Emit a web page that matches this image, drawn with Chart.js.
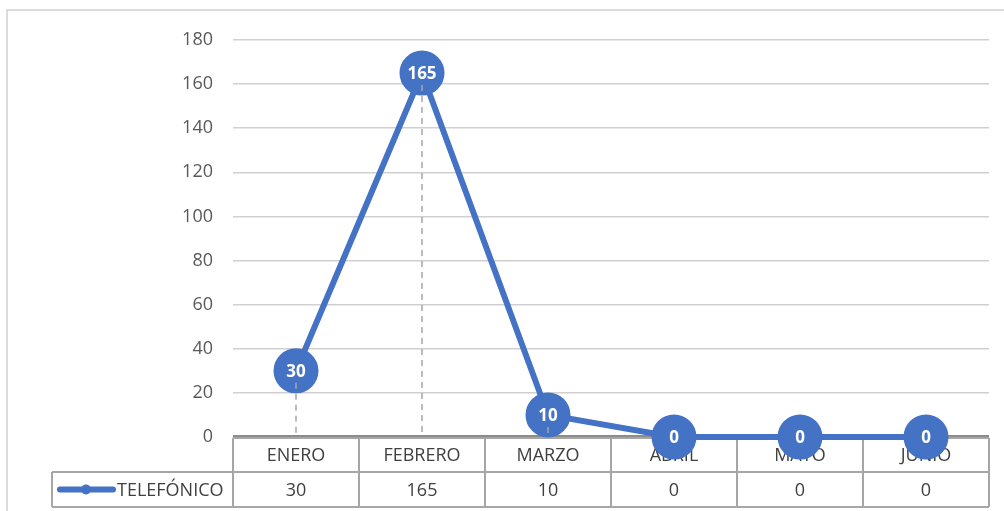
<!DOCTYPE html>
<html>
<head>
<meta charset="utf-8">
<script src="https://cdn.jsdelivr.net/npm/chart.js@4.4.0/dist/chart.umd.min.js"></script>
<style>
  html, body { margin: 0; padding: 0; background: #fff; }
  #wrap { width: 1004px; height: 511px; position: relative; }
</style>
</head>
<body>
<div id="wrap"><canvas id="chart" width="1004" height="511"></canvas></div>
<script>
// Data
const months = ['ENERO', 'FEBRERO', 'MARZO', 'ABRIL', 'MAYO', 'JUNIO'];
const telefonico = [30, 165, 10, 0, 0, 0];
const seriesName = 'TELEFÓNICO';
const yTicks = [0, 20, 40, 60, 80, 100, 120, 140, 160, 180];

const BLUE = '#4472C4';
const FONT = '"Open Sans", sans-serif';

// Outer frame of the chart object
const framePlugin = {
    id: 'frame',
    beforeDraw(chart) {
        const ctx = chart.ctx;
        ctx.save();
        ctx.fillStyle = '#fff';
        ctx.fillRect(0, 0, chart.width, chart.height);
        ctx.strokeStyle = '#d0d0d0';
        ctx.lineWidth = 1.5;
        ctx.beginPath();
        ctx.moveTo(7, chart.height + 2);
        ctx.lineTo(7, 10);
        ctx.lineTo(chart.width + 2, 10);
        ctx.stroke();
        ctx.restore();
    }
};

// Data table under the plot area (drawn before the series so markers overlap it)
const dataTablePlugin = {
    id: 'dataTable',
    beforeDatasetsDraw(chart) {
        const ctx = chart.ctx;
        const x = chart.scales.x;
        const top = chart.scales.y.getPixelForValue(0) + 1;
        const mid = top + 34;
        const bottom = mid + 35;
        const legendLeft = 52;
        const n = months.length;
        const half = (x.getPixelForValue(1) - x.getPixelForValue(0)) / 2;
        const left = x.getPixelForValue(0) - half;
        const right = x.getPixelForValue(n - 1) + half;

        ctx.save();
        ctx.strokeStyle = '#a6a6a6';
        ctx.lineWidth = 2;
        ctx.beginPath();
        ctx.moveTo(left, top); ctx.lineTo(right, top);
        ctx.moveTo(legendLeft, mid); ctx.lineTo(right, mid);
        ctx.moveTo(legendLeft, bottom); ctx.lineTo(right, bottom);
        ctx.moveTo(legendLeft, mid); ctx.lineTo(legendLeft, bottom);
        for (let i = 0; i <= n; i++) {
            const cx = left + i * half * 2;
            ctx.moveTo(cx, top); ctx.lineTo(cx, bottom);
        }
        ctx.stroke();

        // category axis line
        ctx.strokeStyle = '#8c8c8c';
        ctx.lineWidth = 2;
        ctx.beginPath();
        ctx.moveTo(left, top - 2); ctx.lineTo(right, top - 2);
        ctx.stroke();

        ctx.font = '18px ' + FONT;
        ctx.fillStyle = '#404040';
        ctx.textAlign = 'center';
        ctx.textBaseline = 'middle';
        months.forEach((m, i) => {
            const cx = x.getPixelForValue(i);
            ctx.fillText(m, cx, (top + mid) / 2 + 1);
            ctx.fillText(String(telefonico[i]), cx, (mid + bottom) / 2 + 1);
        });

        // legend key
        const ky = (mid + bottom) / 2;
        ctx.strokeStyle = BLUE;
        ctx.lineWidth = 6;
        ctx.lineCap = 'round';
        ctx.beginPath();
        ctx.moveTo(60, ky); ctx.lineTo(113, ky);
        ctx.stroke();
        ctx.fillStyle = BLUE;
        ctx.beginPath();
        ctx.arc(86, ky, 5, 0, Math.PI * 2);
        ctx.fill();
        ctx.fillStyle = '#404040';
        ctx.textAlign = 'left';
        ctx.fillText(seriesName, 117, ky + 1);
        ctx.restore();
    }
};

// Dashed drop lines from each point to the category axis
const dropLinePlugin = {
    id: 'dropLines',
    afterDatasetsDraw(chart) {
        const ctx = chart.ctx;
        const bottom = chart.scales.y.getPixelForValue(0);
        ctx.save();
        ctx.strokeStyle = '#a6a6a6';
        ctx.lineWidth = 1.5;
        ctx.setLineDash([6, 5]);
        chart.getDatasetMeta(0).data.forEach(pt => {
            if (bottom - pt.y < 2) return;
            ctx.beginPath();
            ctx.moveTo(pt.x, pt.y + 12);
            ctx.lineTo(pt.x, bottom);
            ctx.stroke();
        });
        ctx.restore();
    }
};

// White value labels centred on the markers
const valueLabelPlugin = {
    id: 'valueLabels',
    afterDatasetsDraw(chart) {
        const ctx = chart.ctx;
        const values = chart.data.datasets[0].data;
        ctx.save();
        ctx.fillStyle = '#fff';
        ctx.font = 'bold 17px ' + FONT;
        ctx.textAlign = 'center';
        ctx.textBaseline = 'middle';
        chart.getDatasetMeta(0).data.forEach((pt, i) => {
            ctx.fillText(String(values[i]), pt.x, pt.y + 1);
        });
        ctx.restore();
    }
};

new Chart(document.getElementById('chart'), {
    type: 'line',
    data: {
        labels: months,
        datasets: [{
            label: seriesName,
            data: telefonico,
            borderColor: BLUE,
            backgroundColor: BLUE,
            borderWidth: 6,
            pointRadius: 21.5,
            pointHoverRadius: 21.5,
            pointBorderWidth: 2,
            pointBackgroundColor: BLUE,
            pointBorderColor: BLUE,
            tension: 0,
            clip: false
        }]
    },
    options: {
        responsive: false,
        animation: false,
        events: [],
        layout: { autoPadding: false, padding: { top: 40, right: 15, left: 0, bottom: 0 } },
        plugins: {
            legend: { display: false },
            tooltip: { enabled: false }
        },
        scales: {
            x: {
                offset: true,
                grid: { display: false, drawTicks: false },
                border: { display: false },
                ticks: { display: false },
                afterFit(scale) { scale.height = 74; }
            },
            y: {
                min: 0,
                max: 180,
                afterBuildTicks(scale) { scale.ticks = yTicks.map(v => ({ value: v })); },
                grid: { color: '#d0d0d0', lineWidth: 1.5, drawTicks: false },
                border: { display: false },
                ticks: {
                    padding: 20,
                    color: '#595959',
                    font: { family: FONT, size: 18 }
                },
                afterFit(scale) { scale.width = 233; }
            }
        }
    },
    plugins: [framePlugin, dataTablePlugin, dropLinePlugin, valueLabelPlugin]
});
</script>
</body>
</html>
